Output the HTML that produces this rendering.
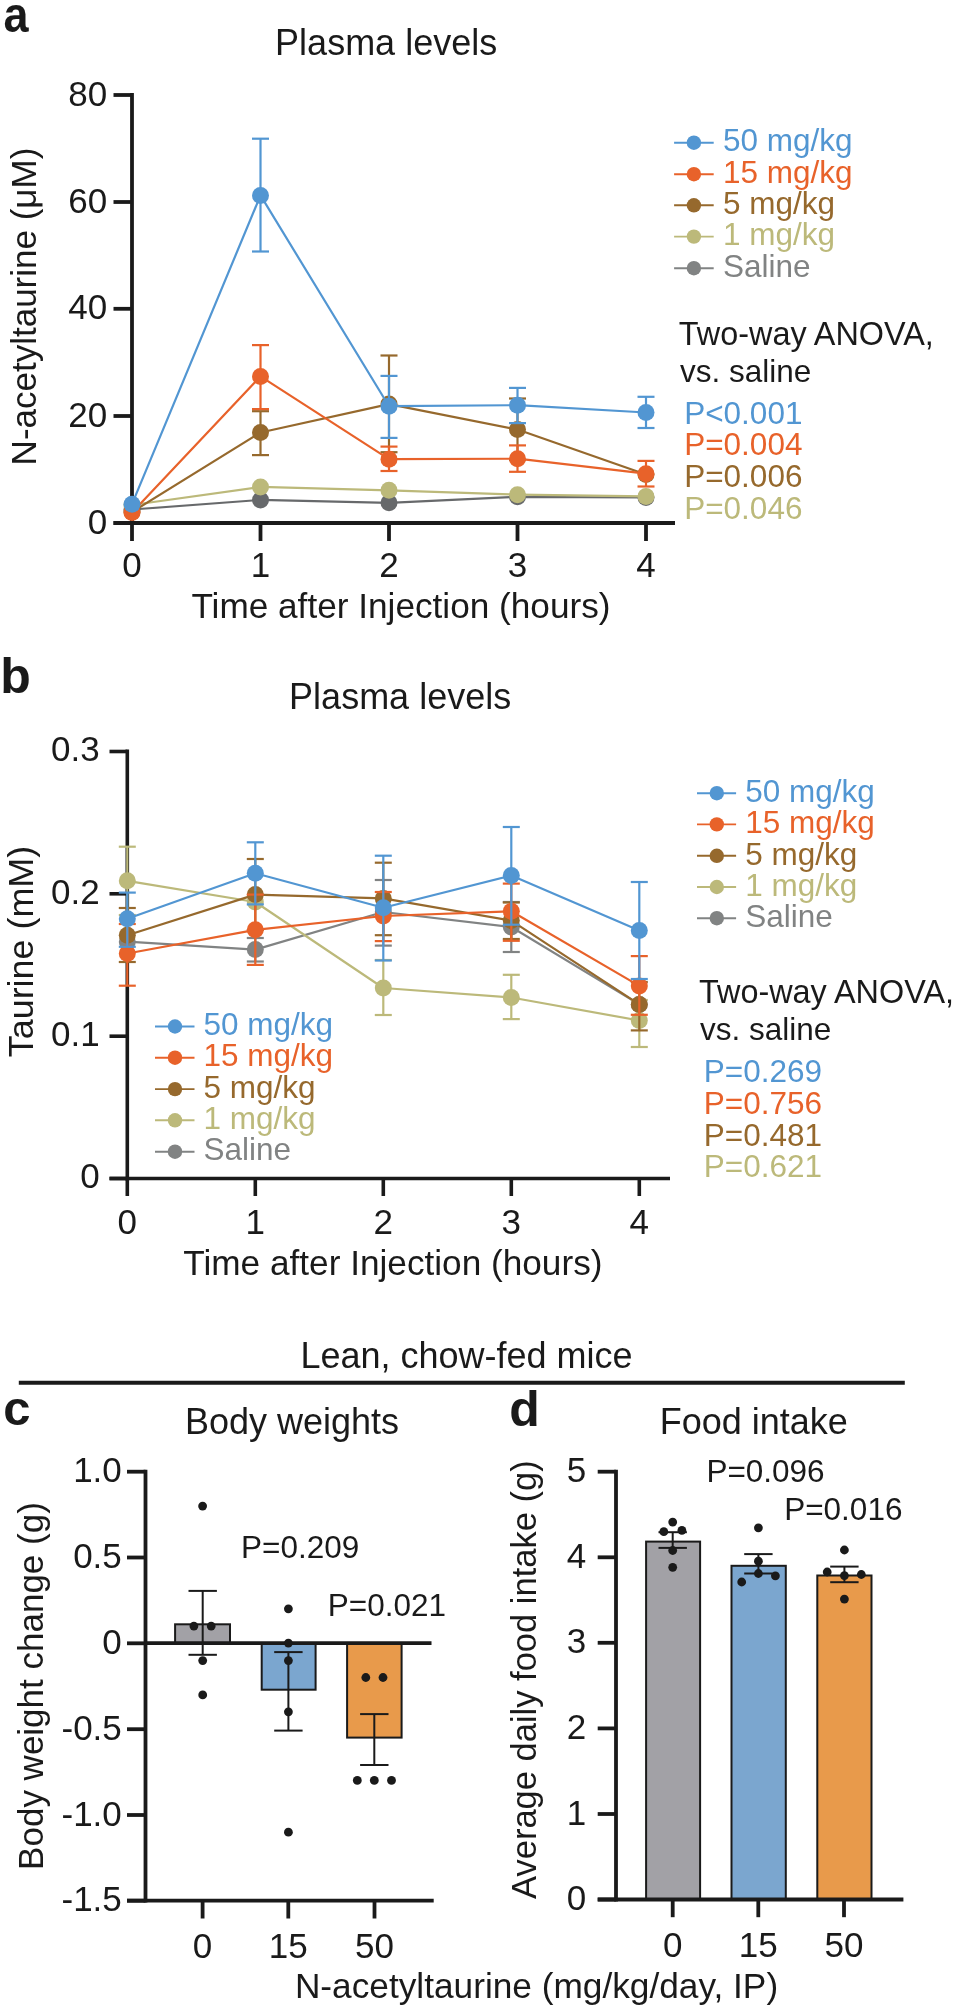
<!DOCTYPE html>
<html><head><meta charset="utf-8"><style>
html,body{margin:0;padding:0;background:#fff;}
svg{display:block;will-change:transform;}
text{font-family:"Liberation Sans",sans-serif;}
</style></head><body>
<svg width="956" height="2008" viewBox="0 0 956 2008">
<rect width="956" height="2008" fill="#fff"/>
<text transform="translate(3.5,31.9) scale(0.9,1)" font-size="50" font-weight="bold" fill="#1a1a1a">a</text>
<text x="275.1" y="55.1" font-size="36" fill="#1a1a1a">Plasma levels</text>
<line x1="132" y1="93.1" x2="132" y2="524.9" stroke="#1a1a1a" stroke-width="3.8" stroke-linecap="butt"/>
<line x1="113.5" y1="95" x2="132" y2="95" stroke="#1a1a1a" stroke-width="3.8" stroke-linecap="butt"/>
<text x="107.3" y="105.6" font-size="35" fill="#1a1a1a" text-anchor="end">80</text>
<line x1="113.5" y1="202" x2="132" y2="202" stroke="#1a1a1a" stroke-width="3.8" stroke-linecap="butt"/>
<text x="107.3" y="212.6" font-size="35" fill="#1a1a1a" text-anchor="end">60</text>
<line x1="113.5" y1="308.8" x2="132" y2="308.8" stroke="#1a1a1a" stroke-width="3.8" stroke-linecap="butt"/>
<text x="107.3" y="319.40000000000003" font-size="35" fill="#1a1a1a" text-anchor="end">40</text>
<line x1="113.5" y1="416" x2="132" y2="416" stroke="#1a1a1a" stroke-width="3.8" stroke-linecap="butt"/>
<text x="107.3" y="426.6" font-size="35" fill="#1a1a1a" text-anchor="end">20</text>
<line x1="113.5" y1="523" x2="132" y2="523" stroke="#1a1a1a" stroke-width="3.8" stroke-linecap="butt"/>
<text x="107.3" y="533.6" font-size="35" fill="#1a1a1a" text-anchor="end">0</text>
<line x1="113.5" y1="523" x2="675" y2="523" stroke="#1a1a1a" stroke-width="3.8" stroke-linecap="butt"/>
<line x1="132" y1="523" x2="132" y2="541" stroke="#1a1a1a" stroke-width="3.8" stroke-linecap="butt"/>
<text x="132" y="576.6" font-size="35" fill="#1a1a1a" text-anchor="middle">0</text>
<line x1="260.5" y1="523" x2="260.5" y2="541" stroke="#1a1a1a" stroke-width="3.8" stroke-linecap="butt"/>
<text x="260.5" y="576.6" font-size="35" fill="#1a1a1a" text-anchor="middle">1</text>
<line x1="389" y1="523" x2="389" y2="541" stroke="#1a1a1a" stroke-width="3.8" stroke-linecap="butt"/>
<text x="389" y="576.6" font-size="35" fill="#1a1a1a" text-anchor="middle">2</text>
<line x1="517.5" y1="523" x2="517.5" y2="541" stroke="#1a1a1a" stroke-width="3.8" stroke-linecap="butt"/>
<text x="517.5" y="576.6" font-size="35" fill="#1a1a1a" text-anchor="middle">3</text>
<line x1="646" y1="523" x2="646" y2="541" stroke="#1a1a1a" stroke-width="3.8" stroke-linecap="butt"/>
<text x="646" y="576.6" font-size="35" fill="#1a1a1a" text-anchor="middle">4</text>
<text x="191.4" y="617.9" font-size="35.2" fill="#1a1a1a">Time after Injection (hours)</text>
<text transform="translate(35.9,465.4) rotate(-90)" font-size="35" fill="#1a1a1a">N-acetyltaurine (μM)</text>
<polyline points="132,509.5 260.5,499.9 389,502.8 517.5,496.8 646,497.5" fill="none" stroke="#67696b" stroke-width="2.2" stroke-linejoin="round"/>
<circle cx="132" cy="509.5" r="8.5" fill="#67696b"/>
<circle cx="260.5" cy="499.9" r="8.5" fill="#67696b"/>
<circle cx="389" cy="502.8" r="8.5" fill="#67696b"/>
<circle cx="517.5" cy="496.8" r="8.5" fill="#67696b"/>
<circle cx="646" cy="497.5" r="8.5" fill="#67696b"/>
<polyline points="132,505 260.5,486.9 389,490.3 517.5,494.7 646,496.4" fill="none" stroke="#bcb97a" stroke-width="2.2" stroke-linejoin="round"/>
<circle cx="132" cy="505" r="8.5" fill="#bcb97a"/>
<circle cx="260.5" cy="486.9" r="8.5" fill="#bcb97a"/>
<circle cx="389" cy="490.3" r="8.5" fill="#bcb97a"/>
<circle cx="517.5" cy="494.7" r="8.5" fill="#bcb97a"/>
<circle cx="646" cy="496.4" r="8.5" fill="#bcb97a"/>
<polyline points="132,512 260.5,432.5 389,404.1 517.5,429.5 646,474.5" fill="none" stroke="#96692d" stroke-width="2.2" stroke-linejoin="round"/>
<circle cx="132" cy="512" r="8.5" fill="#96692d"/>
<line x1="260.5" y1="411.2" x2="260.5" y2="455.1" stroke="#96692d" stroke-width="2.2" stroke-linecap="butt"/>
<line x1="252.0" y1="411.2" x2="269.0" y2="411.2" stroke="#96692d" stroke-width="2.2" stroke-linecap="butt"/>
<line x1="252.0" y1="455.1" x2="269.0" y2="455.1" stroke="#96692d" stroke-width="2.2" stroke-linecap="butt"/>
<circle cx="260.5" cy="432.5" r="8.5" fill="#96692d"/>
<line x1="389" y1="355.5" x2="389" y2="452.2" stroke="#96692d" stroke-width="2.2" stroke-linecap="butt"/>
<line x1="380.5" y1="355.5" x2="397.5" y2="355.5" stroke="#96692d" stroke-width="2.2" stroke-linecap="butt"/>
<line x1="380.5" y1="452.2" x2="397.5" y2="452.2" stroke="#96692d" stroke-width="2.2" stroke-linecap="butt"/>
<circle cx="389" cy="404.1" r="8.5" fill="#96692d"/>
<line x1="517.5" y1="398.5" x2="517.5" y2="460" stroke="#96692d" stroke-width="2.2" stroke-linecap="butt"/>
<line x1="509.0" y1="398.5" x2="526.0" y2="398.5" stroke="#96692d" stroke-width="2.2" stroke-linecap="butt"/>
<line x1="509.0" y1="460" x2="526.0" y2="460" stroke="#96692d" stroke-width="2.2" stroke-linecap="butt"/>
<circle cx="517.5" cy="429.5" r="8.5" fill="#96692d"/>
<circle cx="646" cy="474.5" r="8.5" fill="#96692d"/>
<polyline points="132,512.6 260.5,376.4 389,459.2 517.5,458.7 646,473.7" fill="none" stroke="#e8622a" stroke-width="2.2" stroke-linejoin="round"/>
<circle cx="132" cy="512.6" r="8.5" fill="#e8622a"/>
<line x1="260.5" y1="345.1" x2="260.5" y2="409.1" stroke="#e8622a" stroke-width="2.2" stroke-linecap="butt"/>
<line x1="252.0" y1="345.1" x2="269.0" y2="345.1" stroke="#e8622a" stroke-width="2.2" stroke-linecap="butt"/>
<line x1="252.0" y1="409.1" x2="269.0" y2="409.1" stroke="#e8622a" stroke-width="2.2" stroke-linecap="butt"/>
<circle cx="260.5" cy="376.4" r="8.5" fill="#e8622a"/>
<line x1="389" y1="446.6" x2="389" y2="471" stroke="#e8622a" stroke-width="2.2" stroke-linecap="butt"/>
<line x1="380.5" y1="446.6" x2="397.5" y2="446.6" stroke="#e8622a" stroke-width="2.2" stroke-linecap="butt"/>
<line x1="380.5" y1="471" x2="397.5" y2="471" stroke="#e8622a" stroke-width="2.2" stroke-linecap="butt"/>
<circle cx="389" cy="459.2" r="8.5" fill="#e8622a"/>
<line x1="517.5" y1="445.4" x2="517.5" y2="471.8" stroke="#e8622a" stroke-width="2.2" stroke-linecap="butt"/>
<line x1="509.0" y1="445.4" x2="526.0" y2="445.4" stroke="#e8622a" stroke-width="2.2" stroke-linecap="butt"/>
<line x1="509.0" y1="471.8" x2="526.0" y2="471.8" stroke="#e8622a" stroke-width="2.2" stroke-linecap="butt"/>
<circle cx="517.5" cy="458.7" r="8.5" fill="#e8622a"/>
<line x1="646" y1="460.9" x2="646" y2="486.5" stroke="#e8622a" stroke-width="2.2" stroke-linecap="butt"/>
<line x1="637.5" y1="460.9" x2="654.5" y2="460.9" stroke="#e8622a" stroke-width="2.2" stroke-linecap="butt"/>
<line x1="637.5" y1="486.5" x2="654.5" y2="486.5" stroke="#e8622a" stroke-width="2.2" stroke-linecap="butt"/>
<circle cx="646" cy="473.7" r="8.5" fill="#e8622a"/>
<polyline points="132,504.2 260.5,195.4 389,406.2 517.5,405.2 646,412.5" fill="none" stroke="#5296d2" stroke-width="2.2" stroke-linejoin="round"/>
<circle cx="132" cy="504.2" r="8.5" fill="#5296d2"/>
<line x1="260.5" y1="138.7" x2="260.5" y2="251.5" stroke="#5296d2" stroke-width="2.2" stroke-linecap="butt"/>
<line x1="252.0" y1="138.7" x2="269.0" y2="138.7" stroke="#5296d2" stroke-width="2.2" stroke-linecap="butt"/>
<line x1="252.0" y1="251.5" x2="269.0" y2="251.5" stroke="#5296d2" stroke-width="2.2" stroke-linecap="butt"/>
<circle cx="260.5" cy="195.4" r="8.5" fill="#5296d2"/>
<line x1="389" y1="375.9" x2="389" y2="437.9" stroke="#5296d2" stroke-width="2.2" stroke-linecap="butt"/>
<line x1="380.5" y1="375.9" x2="397.5" y2="375.9" stroke="#5296d2" stroke-width="2.2" stroke-linecap="butt"/>
<line x1="380.5" y1="437.9" x2="397.5" y2="437.9" stroke="#5296d2" stroke-width="2.2" stroke-linecap="butt"/>
<circle cx="389" cy="406.2" r="8.5" fill="#5296d2"/>
<line x1="517.5" y1="387.9" x2="517.5" y2="423.1" stroke="#5296d2" stroke-width="2.2" stroke-linecap="butt"/>
<line x1="509.0" y1="387.9" x2="526.0" y2="387.9" stroke="#5296d2" stroke-width="2.2" stroke-linecap="butt"/>
<line x1="509.0" y1="423.1" x2="526.0" y2="423.1" stroke="#5296d2" stroke-width="2.2" stroke-linecap="butt"/>
<circle cx="517.5" cy="405.2" r="8.5" fill="#5296d2"/>
<line x1="646" y1="396.8" x2="646" y2="428" stroke="#5296d2" stroke-width="2.2" stroke-linecap="butt"/>
<line x1="637.5" y1="396.8" x2="654.5" y2="396.8" stroke="#5296d2" stroke-width="2.2" stroke-linecap="butt"/>
<line x1="637.5" y1="428" x2="654.5" y2="428" stroke="#5296d2" stroke-width="2.2" stroke-linecap="butt"/>
<circle cx="646" cy="412.5" r="8.5" fill="#5296d2"/>
<line x1="674.1" y1="142.7" x2="713.7" y2="142.7" stroke="#5296d2" stroke-width="1.9" stroke-linecap="butt"/>
<circle cx="693.9" cy="142.7" r="7.2" fill="#5296d2"/>
<text x="722.9" y="151.39999999999998" font-size="31.5" fill="#5296d2">50 mg/kg</text>
<line x1="674.1" y1="174.2" x2="713.7" y2="174.2" stroke="#e8622a" stroke-width="1.9" stroke-linecap="butt"/>
<circle cx="693.9" cy="174.2" r="7.2" fill="#e8622a"/>
<text x="722.9" y="182.89999999999998" font-size="31.5" fill="#e8622a">15 mg/kg</text>
<line x1="674.1" y1="205.3" x2="713.7" y2="205.3" stroke="#96692d" stroke-width="1.9" stroke-linecap="butt"/>
<circle cx="693.9" cy="205.3" r="7.2" fill="#96692d"/>
<text x="722.9" y="214.0" font-size="31.5" fill="#96692d">5 mg/kg</text>
<line x1="674.1" y1="236.6" x2="713.7" y2="236.6" stroke="#bcb97a" stroke-width="1.9" stroke-linecap="butt"/>
<circle cx="693.9" cy="236.6" r="7.2" fill="#bcb97a"/>
<text x="722.9" y="245.29999999999998" font-size="31.5" fill="#bcb97a">1 mg/kg</text>
<line x1="674.1" y1="268.2" x2="713.7" y2="268.2" stroke="#818383" stroke-width="1.9" stroke-linecap="butt"/>
<circle cx="693.9" cy="268.2" r="7.2" fill="#818383"/>
<text x="722.9" y="276.9" font-size="31.5" fill="#818383">Saline</text>
<text x="678.8" y="345.3" font-size="32.4" fill="#1a1a1a">Two-way ANOVA,</text>
<text x="680" y="382.3" font-size="31.5" fill="#1a1a1a">vs. saline</text>
<text x="684.2" y="423.7" font-size="31.5" fill="#5296d2">P&lt;0.001</text>
<text x="684.2" y="455.4" font-size="31.5" fill="#e8622a">P=0.004</text>
<text x="684.2" y="487.1" font-size="31.5" fill="#96692d">P=0.006</text>
<text x="684.2" y="518.8" font-size="31.5" fill="#bcb97a">P=0.046</text>
<text x="0.3" y="693.2" font-size="50" fill="#1a1a1a" font-weight="bold">b</text>
<text x="289.1" y="709.4" font-size="36" fill="#1a1a1a">Plasma levels</text>
<line x1="127.3" y1="749.6" x2="127.3" y2="1180.4" stroke="#1a1a1a" stroke-width="3.6" stroke-linecap="butt"/>
<line x1="109.5" y1="751.5" x2="127.3" y2="751.5" stroke="#1a1a1a" stroke-width="3.6" stroke-linecap="butt"/>
<text x="99.6" y="761.3" font-size="35" fill="#1a1a1a" text-anchor="end">0.3</text>
<line x1="109.5" y1="893.8" x2="127.3" y2="893.8" stroke="#1a1a1a" stroke-width="3.6" stroke-linecap="butt"/>
<text x="99.6" y="903.5999999999999" font-size="35" fill="#1a1a1a" text-anchor="end">0.2</text>
<line x1="109.5" y1="1036.2" x2="127.3" y2="1036.2" stroke="#1a1a1a" stroke-width="3.6" stroke-linecap="butt"/>
<text x="99.6" y="1046.0" font-size="35" fill="#1a1a1a" text-anchor="end">0.1</text>
<line x1="109.5" y1="1178.5" x2="127.3" y2="1178.5" stroke="#1a1a1a" stroke-width="3.6" stroke-linecap="butt"/>
<text x="99.6" y="1188.3" font-size="35" fill="#1a1a1a" text-anchor="end">0</text>
<line x1="109.5" y1="1178.5" x2="670" y2="1178.5" stroke="#1a1a1a" stroke-width="3.6" stroke-linecap="butt"/>
<line x1="127.3" y1="1178.5" x2="127.3" y2="1196" stroke="#1a1a1a" stroke-width="3.6" stroke-linecap="butt"/>
<text x="127.3" y="1233.5" font-size="35" fill="#1a1a1a" text-anchor="middle">0</text>
<line x1="255.3" y1="1178.5" x2="255.3" y2="1196" stroke="#1a1a1a" stroke-width="3.6" stroke-linecap="butt"/>
<text x="255.3" y="1233.5" font-size="35" fill="#1a1a1a" text-anchor="middle">1</text>
<line x1="383.3" y1="1178.5" x2="383.3" y2="1196" stroke="#1a1a1a" stroke-width="3.6" stroke-linecap="butt"/>
<text x="383.3" y="1233.5" font-size="35" fill="#1a1a1a" text-anchor="middle">2</text>
<line x1="511.3" y1="1178.5" x2="511.3" y2="1196" stroke="#1a1a1a" stroke-width="3.6" stroke-linecap="butt"/>
<text x="511.3" y="1233.5" font-size="35" fill="#1a1a1a" text-anchor="middle">3</text>
<line x1="639.3" y1="1178.5" x2="639.3" y2="1196" stroke="#1a1a1a" stroke-width="3.6" stroke-linecap="butt"/>
<text x="639.3" y="1233.5" font-size="35" fill="#1a1a1a" text-anchor="middle">4</text>
<text x="183.3" y="1274.9" font-size="35.2" fill="#1a1a1a">Time after Injection (hours)</text>
<text transform="translate(32.6,1057.2) rotate(-90)" font-size="35.9" fill="#1a1a1a">Taurine (mM)</text>
<polyline points="127.3,941.7 255.3,949.6 383.3,912 511.3,927 639.3,1004.4" fill="none" stroke="#818383" stroke-width="2.2" stroke-linejoin="round"/>
<circle cx="127.3" cy="941.7" r="8.5" fill="#818383"/>
<line x1="255.3" y1="938" x2="255.3" y2="961.5" stroke="#818383" stroke-width="2.2" stroke-linecap="butt"/>
<line x1="246.8" y1="938" x2="263.8" y2="938" stroke="#818383" stroke-width="2.2" stroke-linecap="butt"/>
<line x1="246.8" y1="961.5" x2="263.8" y2="961.5" stroke="#818383" stroke-width="2.2" stroke-linecap="butt"/>
<circle cx="255.3" cy="949.6" r="8.5" fill="#818383"/>
<line x1="383.3" y1="880" x2="383.3" y2="945.6" stroke="#818383" stroke-width="2.2" stroke-linecap="butt"/>
<line x1="374.8" y1="880" x2="391.8" y2="880" stroke="#818383" stroke-width="2.2" stroke-linecap="butt"/>
<line x1="374.8" y1="945.6" x2="391.8" y2="945.6" stroke="#818383" stroke-width="2.2" stroke-linecap="butt"/>
<circle cx="383.3" cy="912" r="8.5" fill="#818383"/>
<line x1="511.3" y1="902" x2="511.3" y2="952" stroke="#818383" stroke-width="2.2" stroke-linecap="butt"/>
<line x1="502.8" y1="902" x2="519.8" y2="902" stroke="#818383" stroke-width="2.2" stroke-linecap="butt"/>
<line x1="502.8" y1="952" x2="519.8" y2="952" stroke="#818383" stroke-width="2.2" stroke-linecap="butt"/>
<circle cx="511.3" cy="927" r="8.5" fill="#818383"/>
<circle cx="639.3" cy="1004.4" r="8.5" fill="#818383"/>
<polyline points="127.3,880.8 255.3,902 383.3,988 511.3,997.5 639.3,1020.5" fill="none" stroke="#bcb97a" stroke-width="2.2" stroke-linejoin="round"/>
<line x1="127.3" y1="846.7" x2="127.3" y2="915" stroke="#bcb97a" stroke-width="2.2" stroke-linecap="butt"/>
<line x1="118.8" y1="846.7" x2="135.8" y2="846.7" stroke="#bcb97a" stroke-width="2.2" stroke-linecap="butt"/>
<line x1="118.8" y1="915" x2="135.8" y2="915" stroke="#bcb97a" stroke-width="2.2" stroke-linecap="butt"/>
<circle cx="127.3" cy="880.8" r="8.5" fill="#bcb97a"/>
<circle cx="255.3" cy="902" r="8.5" fill="#bcb97a"/>
<line x1="383.3" y1="960" x2="383.3" y2="1015" stroke="#bcb97a" stroke-width="2.2" stroke-linecap="butt"/>
<line x1="374.8" y1="960" x2="391.8" y2="960" stroke="#bcb97a" stroke-width="2.2" stroke-linecap="butt"/>
<line x1="374.8" y1="1015" x2="391.8" y2="1015" stroke="#bcb97a" stroke-width="2.2" stroke-linecap="butt"/>
<circle cx="383.3" cy="988" r="8.5" fill="#bcb97a"/>
<line x1="511.3" y1="974.8" x2="511.3" y2="1019.1" stroke="#bcb97a" stroke-width="2.2" stroke-linecap="butt"/>
<line x1="502.8" y1="974.8" x2="519.8" y2="974.8" stroke="#bcb97a" stroke-width="2.2" stroke-linecap="butt"/>
<line x1="502.8" y1="1019.1" x2="519.8" y2="1019.1" stroke="#bcb97a" stroke-width="2.2" stroke-linecap="butt"/>
<circle cx="511.3" cy="997.5" r="8.5" fill="#bcb97a"/>
<line x1="639.3" y1="1000" x2="639.3" y2="1047" stroke="#bcb97a" stroke-width="2.2" stroke-linecap="butt"/>
<line x1="630.8" y1="1000" x2="647.8" y2="1000" stroke="#bcb97a" stroke-width="2.2" stroke-linecap="butt"/>
<line x1="630.8" y1="1047" x2="647.8" y2="1047" stroke="#bcb97a" stroke-width="2.2" stroke-linecap="butt"/>
<circle cx="639.3" cy="1020.5" r="8.5" fill="#bcb97a"/>
<polyline points="127.3,935.3 255.3,894.6 383.3,898.4 511.3,920.6 639.3,1004.4" fill="none" stroke="#96692d" stroke-width="2.2" stroke-linejoin="round"/>
<line x1="127.3" y1="908" x2="127.3" y2="962" stroke="#96692d" stroke-width="2.2" stroke-linecap="butt"/>
<line x1="118.8" y1="908" x2="135.8" y2="908" stroke="#96692d" stroke-width="2.2" stroke-linecap="butt"/>
<line x1="118.8" y1="962" x2="135.8" y2="962" stroke="#96692d" stroke-width="2.2" stroke-linecap="butt"/>
<circle cx="127.3" cy="935.3" r="8.5" fill="#96692d"/>
<line x1="255.3" y1="859" x2="255.3" y2="930" stroke="#96692d" stroke-width="2.2" stroke-linecap="butt"/>
<line x1="246.8" y1="859" x2="263.8" y2="859" stroke="#96692d" stroke-width="2.2" stroke-linecap="butt"/>
<line x1="246.8" y1="930" x2="263.8" y2="930" stroke="#96692d" stroke-width="2.2" stroke-linecap="butt"/>
<circle cx="255.3" cy="894.6" r="8.5" fill="#96692d"/>
<line x1="383.3" y1="862.7" x2="383.3" y2="935.2" stroke="#96692d" stroke-width="2.2" stroke-linecap="butt"/>
<line x1="374.8" y1="862.7" x2="391.8" y2="862.7" stroke="#96692d" stroke-width="2.2" stroke-linecap="butt"/>
<line x1="374.8" y1="935.2" x2="391.8" y2="935.2" stroke="#96692d" stroke-width="2.2" stroke-linecap="butt"/>
<circle cx="383.3" cy="898.4" r="8.5" fill="#96692d"/>
<line x1="511.3" y1="902.5" x2="511.3" y2="939" stroke="#96692d" stroke-width="2.2" stroke-linecap="butt"/>
<line x1="502.8" y1="902.5" x2="519.8" y2="902.5" stroke="#96692d" stroke-width="2.2" stroke-linecap="butt"/>
<line x1="502.8" y1="939" x2="519.8" y2="939" stroke="#96692d" stroke-width="2.2" stroke-linecap="butt"/>
<circle cx="511.3" cy="920.6" r="8.5" fill="#96692d"/>
<line x1="639.3" y1="982" x2="639.3" y2="1030.4" stroke="#96692d" stroke-width="2.2" stroke-linecap="butt"/>
<line x1="630.8" y1="982" x2="647.8" y2="982" stroke="#96692d" stroke-width="2.2" stroke-linecap="butt"/>
<line x1="630.8" y1="1030.4" x2="647.8" y2="1030.4" stroke="#96692d" stroke-width="2.2" stroke-linecap="butt"/>
<circle cx="639.3" cy="1004.4" r="8.5" fill="#96692d"/>
<polyline points="127.3,953.5 255.3,929.8 383.3,916 511.3,911.3 639.3,985.9" fill="none" stroke="#e8622a" stroke-width="2.2" stroke-linejoin="round"/>
<line x1="127.3" y1="924" x2="127.3" y2="985.7" stroke="#e8622a" stroke-width="2.2" stroke-linecap="butt"/>
<line x1="118.8" y1="924" x2="135.8" y2="924" stroke="#e8622a" stroke-width="2.2" stroke-linecap="butt"/>
<line x1="118.8" y1="985.7" x2="135.8" y2="985.7" stroke="#e8622a" stroke-width="2.2" stroke-linecap="butt"/>
<circle cx="127.3" cy="953.5" r="8.5" fill="#e8622a"/>
<line x1="255.3" y1="894.6" x2="255.3" y2="964.9" stroke="#e8622a" stroke-width="2.2" stroke-linecap="butt"/>
<line x1="246.8" y1="894.6" x2="263.8" y2="894.6" stroke="#e8622a" stroke-width="2.2" stroke-linecap="butt"/>
<line x1="246.8" y1="964.9" x2="263.8" y2="964.9" stroke="#e8622a" stroke-width="2.2" stroke-linecap="butt"/>
<circle cx="255.3" cy="929.8" r="8.5" fill="#e8622a"/>
<line x1="383.3" y1="892" x2="383.3" y2="941.1" stroke="#e8622a" stroke-width="2.2" stroke-linecap="butt"/>
<line x1="374.8" y1="892" x2="391.8" y2="892" stroke="#e8622a" stroke-width="2.2" stroke-linecap="butt"/>
<line x1="374.8" y1="941.1" x2="391.8" y2="941.1" stroke="#e8622a" stroke-width="2.2" stroke-linecap="butt"/>
<circle cx="383.3" cy="916" r="8.5" fill="#e8622a"/>
<line x1="511.3" y1="883.6" x2="511.3" y2="940.8" stroke="#e8622a" stroke-width="2.2" stroke-linecap="butt"/>
<line x1="502.8" y1="883.6" x2="519.8" y2="883.6" stroke="#e8622a" stroke-width="2.2" stroke-linecap="butt"/>
<line x1="502.8" y1="940.8" x2="519.8" y2="940.8" stroke="#e8622a" stroke-width="2.2" stroke-linecap="butt"/>
<circle cx="511.3" cy="911.3" r="8.5" fill="#e8622a"/>
<line x1="639.3" y1="956.1" x2="639.3" y2="1014.8" stroke="#e8622a" stroke-width="2.2" stroke-linecap="butt"/>
<line x1="630.8" y1="956.1" x2="647.8" y2="956.1" stroke="#e8622a" stroke-width="2.2" stroke-linecap="butt"/>
<line x1="630.8" y1="1014.8" x2="647.8" y2="1014.8" stroke="#e8622a" stroke-width="2.2" stroke-linecap="butt"/>
<circle cx="639.3" cy="985.9" r="8.5" fill="#e8622a"/>
<polyline points="127.3,918.8 255.3,873.3 383.3,907.7 511.3,875.5 639.3,930.6" fill="none" stroke="#5296d2" stroke-width="2.2" stroke-linejoin="round"/>
<line x1="127.3" y1="892.6" x2="127.3" y2="946.8" stroke="#5296d2" stroke-width="2.2" stroke-linecap="butt"/>
<line x1="118.8" y1="892.6" x2="135.8" y2="892.6" stroke="#5296d2" stroke-width="2.2" stroke-linecap="butt"/>
<line x1="118.8" y1="946.8" x2="135.8" y2="946.8" stroke="#5296d2" stroke-width="2.2" stroke-linecap="butt"/>
<circle cx="127.3" cy="918.8" r="8.5" fill="#5296d2"/>
<line x1="255.3" y1="842.3" x2="255.3" y2="904.4" stroke="#5296d2" stroke-width="2.2" stroke-linecap="butt"/>
<line x1="246.8" y1="842.3" x2="263.8" y2="842.3" stroke="#5296d2" stroke-width="2.2" stroke-linecap="butt"/>
<line x1="246.8" y1="904.4" x2="263.8" y2="904.4" stroke="#5296d2" stroke-width="2.2" stroke-linecap="butt"/>
<circle cx="255.3" cy="873.3" r="8.5" fill="#5296d2"/>
<line x1="383.3" y1="855.7" x2="383.3" y2="960.5" stroke="#5296d2" stroke-width="2.2" stroke-linecap="butt"/>
<line x1="374.8" y1="855.7" x2="391.8" y2="855.7" stroke="#5296d2" stroke-width="2.2" stroke-linecap="butt"/>
<line x1="374.8" y1="960.5" x2="391.8" y2="960.5" stroke="#5296d2" stroke-width="2.2" stroke-linecap="butt"/>
<circle cx="383.3" cy="907.7" r="8.5" fill="#5296d2"/>
<line x1="511.3" y1="827" x2="511.3" y2="924.7" stroke="#5296d2" stroke-width="2.2" stroke-linecap="butt"/>
<line x1="502.8" y1="827" x2="519.8" y2="827" stroke="#5296d2" stroke-width="2.2" stroke-linecap="butt"/>
<line x1="502.8" y1="924.7" x2="519.8" y2="924.7" stroke="#5296d2" stroke-width="2.2" stroke-linecap="butt"/>
<circle cx="511.3" cy="875.5" r="8.5" fill="#5296d2"/>
<line x1="639.3" y1="882" x2="639.3" y2="979" stroke="#5296d2" stroke-width="2.2" stroke-linecap="butt"/>
<line x1="630.8" y1="882" x2="647.8" y2="882" stroke="#5296d2" stroke-width="2.2" stroke-linecap="butt"/>
<line x1="630.8" y1="979" x2="647.8" y2="979" stroke="#5296d2" stroke-width="2.2" stroke-linecap="butt"/>
<circle cx="639.3" cy="930.6" r="8.5" fill="#5296d2"/>
<line x1="697" y1="793.2" x2="736.1" y2="793.2" stroke="#5296d2" stroke-width="1.9" stroke-linecap="butt"/>
<circle cx="716.8" cy="793.2" r="7.2" fill="#5296d2"/>
<text x="745.2" y="801.9000000000001" font-size="31.5" fill="#5296d2">50 mg/kg</text>
<line x1="697" y1="824.4" x2="736.1" y2="824.4" stroke="#e8622a" stroke-width="1.9" stroke-linecap="butt"/>
<circle cx="716.8" cy="824.4" r="7.2" fill="#e8622a"/>
<text x="745.2" y="833.1" font-size="31.5" fill="#e8622a">15 mg/kg</text>
<line x1="697" y1="855.8" x2="736.1" y2="855.8" stroke="#96692d" stroke-width="1.9" stroke-linecap="butt"/>
<circle cx="716.8" cy="855.8" r="7.2" fill="#96692d"/>
<text x="745.2" y="864.5" font-size="31.5" fill="#96692d">5 mg/kg</text>
<line x1="697" y1="887" x2="736.1" y2="887" stroke="#bcb97a" stroke-width="1.9" stroke-linecap="butt"/>
<circle cx="716.8" cy="887" r="7.2" fill="#bcb97a"/>
<text x="745.2" y="895.7" font-size="31.5" fill="#bcb97a">1 mg/kg</text>
<line x1="697" y1="918.2" x2="736.1" y2="918.2" stroke="#818383" stroke-width="1.9" stroke-linecap="butt"/>
<circle cx="716.8" cy="918.2" r="7.2" fill="#818383"/>
<text x="745.2" y="926.9000000000001" font-size="31.5" fill="#818383">Saline</text>
<line x1="155" y1="1026.5" x2="194.5" y2="1026.5" stroke="#5296d2" stroke-width="1.9" stroke-linecap="butt"/>
<circle cx="175" cy="1026.5" r="7.2" fill="#5296d2"/>
<text x="203.5" y="1035.2" font-size="31.5" fill="#5296d2">50 mg/kg</text>
<line x1="155" y1="1057.7" x2="194.5" y2="1057.7" stroke="#e8622a" stroke-width="1.9" stroke-linecap="butt"/>
<circle cx="175" cy="1057.7" r="7.2" fill="#e8622a"/>
<text x="203.5" y="1066.4" font-size="31.5" fill="#e8622a">15 mg/kg</text>
<line x1="155" y1="1089.1" x2="194.5" y2="1089.1" stroke="#96692d" stroke-width="1.9" stroke-linecap="butt"/>
<circle cx="175" cy="1089.1" r="7.2" fill="#96692d"/>
<text x="203.5" y="1097.8" font-size="31.5" fill="#96692d">5 mg/kg</text>
<line x1="155" y1="1120.3" x2="194.5" y2="1120.3" stroke="#bcb97a" stroke-width="1.9" stroke-linecap="butt"/>
<circle cx="175" cy="1120.3" r="7.2" fill="#bcb97a"/>
<text x="203.5" y="1129.0" font-size="31.5" fill="#bcb97a">1 mg/kg</text>
<line x1="155" y1="1151.7" x2="194.5" y2="1151.7" stroke="#818383" stroke-width="1.9" stroke-linecap="butt"/>
<circle cx="175" cy="1151.7" r="7.2" fill="#818383"/>
<text x="203.5" y="1160.4" font-size="31.5" fill="#818383">Saline</text>
<text x="699" y="1003.4" font-size="32.4" fill="#1a1a1a">Two-way ANOVA,</text>
<text x="700" y="1039.6" font-size="31.5" fill="#1a1a1a">vs. saline</text>
<text x="703.8" y="1082.3" font-size="31.5" fill="#5296d2">P=0.269</text>
<text x="703.8" y="1113.8" font-size="31.5" fill="#e8622a">P=0.756</text>
<text x="703.8" y="1145.5" font-size="31.5" fill="#96692d">P=0.481</text>
<text x="703.8" y="1177" font-size="31.5" fill="#bcb97a">P=0.621</text>
<text x="300.4" y="1368" font-size="36" fill="#1a1a1a">Lean, chow-fed mice</text>
<line x1="18.8" y1="1382.7" x2="904.8" y2="1382.7" stroke="#1a1a1a" stroke-width="4" stroke-linecap="butt"/>
<text x="3.2" y="1424.7" font-size="49" fill="#1a1a1a" font-weight="bold">c</text>
<text x="509.2" y="1426.4" font-size="50" fill="#1a1a1a" font-weight="bold">d</text>
<text x="185" y="1433.9" font-size="36" fill="#1a1a1a">Body weights</text>
<text x="659.7" y="1433.5" font-size="36" fill="#1a1a1a">Food intake</text>
<line x1="145.5" y1="1469.8" x2="145.5" y2="1902.6" stroke="#1a1a1a" stroke-width="3.8" stroke-linecap="butt"/>
<line x1="127" y1="1471.7" x2="145.5" y2="1471.7" stroke="#1a1a1a" stroke-width="3.8" stroke-linecap="butt"/>
<text x="121.8" y="1482.2" font-size="35" fill="#1a1a1a" text-anchor="end">1.0</text>
<line x1="127" y1="1557.5" x2="145.5" y2="1557.5" stroke="#1a1a1a" stroke-width="3.8" stroke-linecap="butt"/>
<text x="121.8" y="1568.0" font-size="35" fill="#1a1a1a" text-anchor="end">0.5</text>
<line x1="127" y1="1643.3" x2="145.5" y2="1643.3" stroke="#1a1a1a" stroke-width="3.8" stroke-linecap="butt"/>
<text x="121.8" y="1653.8" font-size="35" fill="#1a1a1a" text-anchor="end">0</text>
<line x1="127" y1="1729.2" x2="145.5" y2="1729.2" stroke="#1a1a1a" stroke-width="3.8" stroke-linecap="butt"/>
<text x="121.8" y="1739.7" font-size="35" fill="#1a1a1a" text-anchor="end">-0.5</text>
<line x1="127" y1="1815" x2="145.5" y2="1815" stroke="#1a1a1a" stroke-width="3.8" stroke-linecap="butt"/>
<text x="121.8" y="1825.5" font-size="35" fill="#1a1a1a" text-anchor="end">-1.0</text>
<line x1="127" y1="1900.7" x2="145.5" y2="1900.7" stroke="#1a1a1a" stroke-width="3.8" stroke-linecap="butt"/>
<text x="121.8" y="1911.2" font-size="35" fill="#1a1a1a" text-anchor="end">-1.5</text>
<line x1="127" y1="1900.7" x2="433.7" y2="1900.7" stroke="#1a1a1a" stroke-width="3.8" stroke-linecap="butt"/>
<line x1="202.6" y1="1900.7" x2="202.6" y2="1918.5" stroke="#1a1a1a" stroke-width="3.8" stroke-linecap="butt"/>
<text x="202.6" y="1957.7" font-size="35" fill="#1a1a1a" text-anchor="middle">0</text>
<line x1="288.3" y1="1900.7" x2="288.3" y2="1918.5" stroke="#1a1a1a" stroke-width="3.8" stroke-linecap="butt"/>
<text x="288.3" y="1957.7" font-size="35" fill="#1a1a1a" text-anchor="middle">15</text>
<line x1="374.5" y1="1900.7" x2="374.5" y2="1918.5" stroke="#1a1a1a" stroke-width="3.8" stroke-linecap="butt"/>
<text x="374.5" y="1957.7" font-size="35" fill="#1a1a1a" text-anchor="middle">50</text>
<text transform="translate(42.9,1869.9) rotate(-90)" font-size="35" fill="#1a1a1a">Body weight change (g)</text>
<rect x="175.1" y="1624.3" width="54.900000000000006" height="18.700000000000045" fill="#a2a1a6" stroke="#1a1a1a" stroke-width="2"/>
<rect x="261.7" y="1643" width="53.900000000000034" height="46.700000000000045" fill="#7ba6cf" stroke="#1a1a1a" stroke-width="2"/>
<rect x="347.1" y="1643" width="54.5" height="94.59999999999991" fill="#e89a4b" stroke="#1a1a1a" stroke-width="2"/>
<line x1="145" y1="1643.2" x2="431.5" y2="1643.2" stroke="#1a1a1a" stroke-width="3.8" stroke-linecap="butt"/>
<line x1="202.7" y1="1590.9" x2="202.7" y2="1654.8" stroke="#1a1a1a" stroke-width="2" stroke-linecap="butt"/>
<line x1="188.5" y1="1590.9" x2="216.89999999999998" y2="1590.9" stroke="#1a1a1a" stroke-width="2" stroke-linecap="butt"/>
<line x1="188.5" y1="1654.8" x2="216.89999999999998" y2="1654.8" stroke="#1a1a1a" stroke-width="2" stroke-linecap="butt"/>
<line x1="288.4" y1="1652.1" x2="288.4" y2="1730.6" stroke="#1a1a1a" stroke-width="2" stroke-linecap="butt"/>
<line x1="274.2" y1="1652.1" x2="302.59999999999997" y2="1652.1" stroke="#1a1a1a" stroke-width="2" stroke-linecap="butt"/>
<line x1="274.2" y1="1730.6" x2="302.59999999999997" y2="1730.6" stroke="#1a1a1a" stroke-width="2" stroke-linecap="butt"/>
<line x1="374.3" y1="1714.1" x2="374.3" y2="1765" stroke="#1a1a1a" stroke-width="2" stroke-linecap="butt"/>
<line x1="360.1" y1="1714.1" x2="388.5" y2="1714.1" stroke="#1a1a1a" stroke-width="2" stroke-linecap="butt"/>
<line x1="360.1" y1="1765" x2="388.5" y2="1765" stroke="#1a1a1a" stroke-width="2" stroke-linecap="butt"/>
<circle cx="202.6" cy="1506.1" r="4.4" fill="#1a1a1a"/>
<circle cx="193.9" cy="1626.1" r="4.4" fill="#1a1a1a"/>
<circle cx="211.2" cy="1626.1" r="4.4" fill="#1a1a1a"/>
<circle cx="202.7" cy="1660.6" r="4.4" fill="#1a1a1a"/>
<circle cx="202.7" cy="1694.9" r="4.4" fill="#1a1a1a"/>
<circle cx="288.4" cy="1608.8" r="4.4" fill="#1a1a1a"/>
<circle cx="288.4" cy="1643.1" r="4.4" fill="#1a1a1a"/>
<circle cx="288.4" cy="1660.6" r="4.4" fill="#1a1a1a"/>
<circle cx="288.4" cy="1711.8" r="4.4" fill="#1a1a1a"/>
<circle cx="288.4" cy="1832.2" r="4.4" fill="#1a1a1a"/>
<circle cx="365.8" cy="1677.5" r="4.4" fill="#1a1a1a"/>
<circle cx="383" cy="1677.5" r="4.4" fill="#1a1a1a"/>
<circle cx="357.3" cy="1780.4" r="4.4" fill="#1a1a1a"/>
<circle cx="374.3" cy="1780.4" r="4.4" fill="#1a1a1a"/>
<circle cx="391.5" cy="1780.4" r="4.4" fill="#1a1a1a"/>
<text x="241" y="1557.8" font-size="31.5" fill="#1a1a1a">P=0.209</text>
<text x="327.8" y="1616.1" font-size="31.5" fill="#1a1a1a">P=0.021</text>
<line x1="616" y1="1469.8" x2="616" y2="1901.4" stroke="#1a1a1a" stroke-width="3.8" stroke-linecap="butt"/>
<line x1="597.7" y1="1471.7" x2="616" y2="1471.7" stroke="#1a1a1a" stroke-width="3.8" stroke-linecap="butt"/>
<text x="586.3" y="1482.2" font-size="35" fill="#1a1a1a" text-anchor="end">5</text>
<line x1="597.7" y1="1557.3" x2="616" y2="1557.3" stroke="#1a1a1a" stroke-width="3.8" stroke-linecap="butt"/>
<text x="586.3" y="1567.8" font-size="35" fill="#1a1a1a" text-anchor="end">4</text>
<line x1="597.7" y1="1642.8" x2="616" y2="1642.8" stroke="#1a1a1a" stroke-width="3.8" stroke-linecap="butt"/>
<text x="586.3" y="1653.3" font-size="35" fill="#1a1a1a" text-anchor="end">3</text>
<line x1="597.7" y1="1728.4" x2="616" y2="1728.4" stroke="#1a1a1a" stroke-width="3.8" stroke-linecap="butt"/>
<text x="586.3" y="1738.9" font-size="35" fill="#1a1a1a" text-anchor="end">2</text>
<line x1="597.7" y1="1814" x2="616" y2="1814" stroke="#1a1a1a" stroke-width="3.8" stroke-linecap="butt"/>
<text x="586.3" y="1824.5" font-size="35" fill="#1a1a1a" text-anchor="end">1</text>
<line x1="597.7" y1="1899.5" x2="616" y2="1899.5" stroke="#1a1a1a" stroke-width="3.8" stroke-linecap="butt"/>
<text x="586.3" y="1910.0" font-size="35" fill="#1a1a1a" text-anchor="end">0</text>
<rect x="646.1" y="1541.6" width="54.0" height="357.4000000000001" fill="#a2a1a6" stroke="#1a1a1a" stroke-width="2"/>
<rect x="731.5" y="1565.8" width="54.299999999999955" height="333.20000000000005" fill="#7ba6cf" stroke="#1a1a1a" stroke-width="2"/>
<rect x="817.3" y="1575.5" width="54.200000000000045" height="323.5" fill="#e89a4b" stroke="#1a1a1a" stroke-width="2"/>
<line x1="597.7" y1="1899.5" x2="903.4" y2="1899.5" stroke="#1a1a1a" stroke-width="3.8" stroke-linecap="butt"/>
<line x1="672.7" y1="1899.5" x2="672.7" y2="1917.2" stroke="#1a1a1a" stroke-width="3.8" stroke-linecap="butt"/>
<text x="672.7" y="1957.3" font-size="35" fill="#1a1a1a" text-anchor="middle">0</text>
<line x1="758.3" y1="1899.5" x2="758.3" y2="1917.2" stroke="#1a1a1a" stroke-width="3.8" stroke-linecap="butt"/>
<text x="758.3" y="1957.3" font-size="35" fill="#1a1a1a" text-anchor="middle">15</text>
<line x1="844" y1="1899.5" x2="844" y2="1917.2" stroke="#1a1a1a" stroke-width="3.8" stroke-linecap="butt"/>
<text x="844" y="1957.3" font-size="35" fill="#1a1a1a" text-anchor="middle">50</text>
<text transform="translate(536.2,1898.9) rotate(-90)" font-size="34.5" fill="#1a1a1a">Average daily food intake (g)</text>
<line x1="672.7" y1="1532.2" x2="672.7" y2="1547.9" stroke="#1a1a1a" stroke-width="2" stroke-linecap="butt"/>
<line x1="658.5" y1="1532.2" x2="686.9000000000001" y2="1532.2" stroke="#1a1a1a" stroke-width="2" stroke-linecap="butt"/>
<line x1="658.5" y1="1547.9" x2="686.9000000000001" y2="1547.9" stroke="#1a1a1a" stroke-width="2" stroke-linecap="butt"/>
<line x1="758.4" y1="1554.1" x2="758.4" y2="1573.5" stroke="#1a1a1a" stroke-width="2" stroke-linecap="butt"/>
<line x1="744.1999999999999" y1="1554.1" x2="772.6" y2="1554.1" stroke="#1a1a1a" stroke-width="2" stroke-linecap="butt"/>
<line x1="744.1999999999999" y1="1573.5" x2="772.6" y2="1573.5" stroke="#1a1a1a" stroke-width="2" stroke-linecap="butt"/>
<line x1="844.4" y1="1566.6" x2="844.4" y2="1582.2" stroke="#1a1a1a" stroke-width="2" stroke-linecap="butt"/>
<line x1="830.1999999999999" y1="1566.6" x2="858.6" y2="1566.6" stroke="#1a1a1a" stroke-width="2" stroke-linecap="butt"/>
<line x1="830.1999999999999" y1="1582.2" x2="858.6" y2="1582.2" stroke="#1a1a1a" stroke-width="2" stroke-linecap="butt"/>
<circle cx="672.7" cy="1522.1" r="4.4" fill="#1a1a1a"/>
<circle cx="663.8" cy="1531.7" r="4.4" fill="#1a1a1a"/>
<circle cx="681.9" cy="1530.4" r="4.4" fill="#1a1a1a"/>
<circle cx="672.7" cy="1550.5" r="4.4" fill="#1a1a1a"/>
<circle cx="672.7" cy="1567.3" r="4.4" fill="#1a1a1a"/>
<circle cx="758.4" cy="1527.8" r="4.4" fill="#1a1a1a"/>
<circle cx="758.4" cy="1561.2" r="4.4" fill="#1a1a1a"/>
<circle cx="758.4" cy="1573.5" r="4.4" fill="#1a1a1a"/>
<circle cx="775.4" cy="1575.8" r="4.4" fill="#1a1a1a"/>
<circle cx="741.7" cy="1582" r="4.4" fill="#1a1a1a"/>
<circle cx="844.4" cy="1550" r="4.4" fill="#1a1a1a"/>
<circle cx="827.2" cy="1572" r="4.4" fill="#1a1a1a"/>
<circle cx="844.4" cy="1575.6" r="4.4" fill="#1a1a1a"/>
<circle cx="861.3" cy="1574.5" r="4.4" fill="#1a1a1a"/>
<circle cx="844.4" cy="1599.1" r="4.4" fill="#1a1a1a"/>
<text x="706.4" y="1482.2" font-size="31.5" fill="#1a1a1a">P=0.096</text>
<text x="784.2" y="1520.2" font-size="31.5" fill="#1a1a1a">P=0.016</text>
<text x="294.9" y="1998" font-size="35.25" fill="#1a1a1a">N-acetyltaurine (mg/kg/day, IP)</text>
</svg></body></html>
